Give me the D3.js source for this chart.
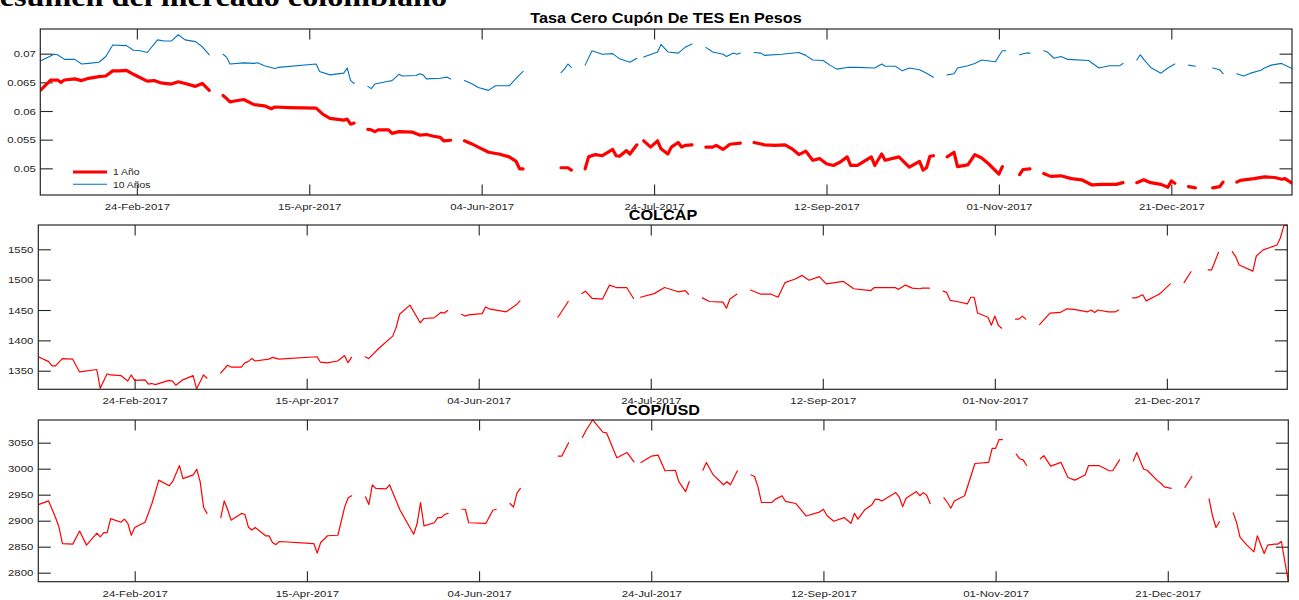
<!DOCTYPE html>
<html>
<head>
<meta charset="utf-8">
<script src="https://cdn.jsdelivr.net/npm/d3@7"></script>
<style>
  html, body { margin: 0; padding: 0; background: #fff; }
  svg { display: block; }
  .tick text { font-family: "Liberation Sans", Arial, sans-serif; fill: #262626; }
</style>
</head>
<body>
<svg id="fig" width="1299" height="600"></svg>
<script>
// ---- Data: Colombian market summary, Jan 2017 - Jan 2018 (null = no quote) ----
const xStart = "2017-01-27";
const xEnd = "2018-01-25";
const xTickDates = ["2017-02-24", "2017-04-15", "2017-06-04", "2017-07-24", "2017-09-12", "2017-11-01", "2017-12-21"];

const tesTicks = [0.05, 0.055, 0.06, 0.065, 0.07];
const colcapTicks = [1350, 1400, 1450, 1500, 1550];
const copTicks = [2800, 2850, 2900, 2950, 3000, 3050];

const tesDomain = [0.04535, 0.0743];
const colcapDomain = [1319.4, 1590];
const copDomain = [2782.7, 3093.6];

const seriesNames = ["1 Año", "10 Años"];

// Zero-coupon TES yield, 1 year
const tes1Y = [
["2017-01-27",0.0636],["2017-01-30",0.0654],["2017-02-01",0.0654],["2017-02-02",0.0650],["2017-02-03",0.0654],["2017-02-06",0.0656],["2017-02-08",0.0653],["2017-02-10",0.0657],["2017-02-13",0.0660],["2017-02-15",0.0661],["2017-02-17",0.0670],["2017-02-19",0.0670],["2017-02-21",0.0671],["2017-02-23",0.0664],["2017-02-24",0.0661],["2017-02-27",0.0652],["2017-03-01",0.0653],["2017-03-03",0.0649],["2017-03-06",0.0647],["2017-03-08",0.0651],["2017-03-10",0.0648],["2017-03-13",0.0643],["2017-03-15",0.0648],["2017-03-17",0.0636],
["2017-03-19",null],
["2017-03-21",0.0627],["2017-03-22",0.0622],["2017-03-23",0.0616],["2017-03-24",0.0617],["2017-03-27",0.0620],["2017-03-30",0.0611],["2017-04-02",0.0609],["2017-04-04",0.0604],["2017-04-05",0.0607],["2017-04-09",0.0606],["2017-04-17",0.0605],["2017-04-19",0.0594],["2017-04-21",0.0587],["2017-04-25",0.0584],["2017-04-26",0.0586],["2017-04-27",0.0577],["2017-04-28",0.0579],
["2017-04-30",null],
["2017-05-02",0.0568],["2017-05-03",0.0567],["2017-05-04",0.0564],["2017-05-05",0.0567],["2017-05-08",0.0567],["2017-05-09",0.0561],["2017-05-11",0.0564],["2017-05-15",0.0563],["2017-05-17",0.0558],["2017-05-19",0.0559],["2017-05-21",0.0556],["2017-05-23",0.0554],["2017-05-24",0.0548],["2017-05-26",0.0549],
["2017-05-28",null],
["2017-05-30",0.0548],["2017-06-01",0.0543],["2017-06-03",0.0537],["2017-06-06",0.0528],["2017-06-09",0.0525],["2017-06-12",0.0520],["2017-06-14",0.0512],["2017-06-15",0.0499],["2017-06-16",0.0499],
["2017-06-21",null],
["2017-06-27",0.0501],["2017-06-29",0.0501],["2017-06-30",0.0497],
["2017-07-02",null],
["2017-07-04",0.0499],["2017-07-05",0.0520],["2017-07-07",0.0524],["2017-07-09",0.0522],["2017-07-12",0.0533],["2017-07-13",0.0522],["2017-07-14",0.0521],["2017-07-16",0.0531],["2017-07-17",0.0525],["2017-07-19",0.0541],
["2017-07-20",null],
["2017-07-21",0.0548],["2017-07-23",0.0537],["2017-07-25",0.0548],["2017-07-26",0.0534],["2017-07-28",0.0525],["2017-07-29",0.0537],["2017-07-31",0.0545],["2017-08-01",0.0537],["2017-08-02",0.0540],["2017-08-04",0.0541],
["2017-08-06",null],
["2017-08-08",0.0537],["2017-08-10",0.0537],["2017-08-11",0.0540],["2017-08-13",0.0533],["2017-08-15",0.0542],["2017-08-18",0.0544],
["2017-08-20",null],
["2017-08-22",0.0545],["2017-08-25",0.0541],["2017-08-28",0.0540],["2017-08-31",0.0541],["2017-09-02",0.0534],["2017-09-04",0.0524],["2017-09-06",0.0530],["2017-09-08",0.0514],["2017-09-10",0.0517],["2017-09-12",0.0508],["2017-09-14",0.0505],["2017-09-16",0.0511],["2017-09-18",0.0520],["2017-09-19",0.0505],["2017-09-21",0.0505],["2017-09-25",0.0520],["2017-09-26",0.0505],["2017-09-28",0.0525],["2017-09-29",0.0514],["2017-10-03",0.0520],["2017-10-06",0.0502],["2017-10-09",0.0512],["2017-10-10",0.0497],["2017-10-11",0.0501],["2017-10-12",0.0521],["2017-10-13",0.0522],
["2017-10-15",null],
["2017-10-17",0.0520],["2017-10-19",0.0528],["2017-10-20",0.0503],["2017-10-23",0.0506],["2017-10-25",0.0524],["2017-10-27",0.0518],["2017-10-29",0.0508],["2017-11-01",0.0490],["2017-11-02",0.0503],
["2017-11-04",null],
["2017-11-07",0.0489],["2017-11-08",0.0498],["2017-11-10",0.0499],
["2017-11-12",null],
["2017-11-14",0.0491],["2017-11-16",0.0486],["2017-11-19",0.0487],["2017-11-22",0.0482],["2017-11-25",0.0480],["2017-11-28",0.0471],["2017-12-01",0.0472],["2017-12-05",0.0472],["2017-12-07",0.0475],
["2017-12-09",null],
["2017-12-11",0.0475],["2017-12-13",0.0480],["2017-12-15",0.0475],["2017-12-18",0.0472],["2017-12-20",0.0467],["2017-12-21",0.0478],["2017-12-22",0.0474],
["2017-12-24",null],
["2017-12-26",0.0468],["2017-12-28",0.0466],
["2017-12-30",null],
["2018-01-02",0.0466],["2018-01-04",0.0468],["2018-01-05",0.0476],
["2018-01-07",null],
["2018-01-09",0.0476],["2018-01-10",0.0479],["2018-01-14",0.0482],["2018-01-17",0.0485],["2018-01-20",0.0484],["2018-01-22",0.0481],["2018-01-23",0.0482],["2018-01-25",0.0474]
];

// Zero-coupon TES yield, 10 years
const tes10Y = [
["2017-01-27",0.0687],["2017-01-31",0.0699],["2017-02-01",0.0698],["2017-02-03",0.0690],["2017-02-06",0.0690],["2017-02-08",0.0682],["2017-02-10",0.0683],["2017-02-13",0.0685],["2017-02-15",0.0695],["2017-02-17",0.0715],["2017-02-21",0.0714],["2017-02-23",0.0706],["2017-02-25",0.0705],["2017-02-27",0.0702],["2017-03-02",0.0724],["2017-03-04",0.0722],["2017-03-06",0.0722],["2017-03-08",0.0733],["2017-03-10",0.0724],["2017-03-13",0.0721],["2017-03-15",0.0712],["2017-03-17",0.0698],
["2017-03-19",null],
["2017-03-21",0.0699],["2017-03-22",0.0694],["2017-03-23",0.0682],["2017-03-27",0.0684],["2017-03-30",0.0683],["2017-03-31",0.0684],["2017-04-02",0.0679],["2017-04-05",0.0674],["2017-04-06",0.0676],["2017-04-17",0.0682],["2017-04-18",0.0669],["2017-04-21",0.0663],["2017-04-25",0.0666],["2017-04-26",0.0675],["2017-04-27",0.0653],["2017-04-28",0.0648],
["2017-04-30",null],
["2017-05-02",0.0643],["2017-05-03",0.0639],["2017-05-04",0.0647],["2017-05-08",0.0652],["2017-05-09",0.0653],["2017-05-11",0.0664],["2017-05-12",0.0661],["2017-05-16",0.0662],["2017-05-17",0.0665],["2017-05-18",0.0663],["2017-05-19",0.0656],["2017-05-23",0.0657],["2017-05-25",0.0659],["2017-05-26",0.0656],
["2017-05-28",null],
["2017-05-30",0.0653],["2017-06-01",0.0648],["2017-06-03",0.0641],["2017-06-06",0.0636],["2017-06-08",0.0644],["2017-06-12",0.0644],["2017-06-14",0.0657],["2017-06-16",0.0669],
["2017-06-21",null],
["2017-06-27",0.0667],["2017-06-28",0.0673],["2017-06-29",0.0682],["2017-06-30",0.0676],
["2017-07-02",null],
["2017-07-04",0.0680],["2017-07-06",0.0705],["2017-07-09",0.0699],["2017-07-12",0.0700],["2017-07-14",0.0691],["2017-07-17",0.0685],["2017-07-19",0.0692],
["2017-07-20",null],
["2017-07-21",0.0694],["2017-07-25",0.0703],["2017-07-26",0.0716],["2017-07-28",0.0703],["2017-07-31",0.0701],["2017-08-02",0.0711],["2017-08-04",0.0717],
["2017-08-06",null],
["2017-08-08",0.0711],["2017-08-10",0.0703],["2017-08-13",0.0699],["2017-08-14",0.0695],["2017-08-16",0.0701],["2017-08-17",0.0699],["2017-08-18",0.0701],
["2017-08-20",null],
["2017-08-22",0.0702],["2017-08-24",0.0701],["2017-08-25",0.0697],["2017-08-30",0.0699],["2017-09-04",0.0702],["2017-09-06",0.0697],["2017-09-08",0.0689],["2017-09-11",0.0688],["2017-09-13",0.0680],["2017-09-15",0.0673],["2017-09-18",0.0676],["2017-09-21",0.0676],["2017-09-26",0.0675],["2017-09-28",0.0682],["2017-09-29",0.0678],["2017-10-02",0.0678],["2017-10-04",0.0670],["2017-10-06",0.0675],["2017-10-09",0.0672],["2017-10-11",0.0666],["2017-10-13",0.0659],
["2017-10-15",null],
["2017-10-17",0.0663],["2017-10-19",0.0665],["2017-10-20",0.0675],["2017-10-23",0.0679],["2017-10-25",0.0683],["2017-10-27",0.0689],["2017-10-31",0.0686],["2017-11-01",0.0696],["2017-11-02",0.0705],["2017-11-03",0.0705],
["2017-11-05",null],
["2017-11-07",0.0698],["2017-11-09",0.0701],["2017-11-10",0.0701],
["2017-11-12",null],
["2017-11-14",0.0705],["2017-11-15",0.0703],["2017-11-17",0.0692],["2017-11-19",0.0695],["2017-11-21",0.0690],["2017-11-27",0.0688],["2017-11-30",0.0675],["2017-12-03",0.0679],["2017-12-06",0.0679],["2017-12-07",0.0683],
["2017-12-09",null],
["2017-12-11",0.0689],["2017-12-12",0.0698],["2017-12-13",0.0690],["2017-12-15",0.0676],["2017-12-18",0.0666],["2017-12-20",0.0675],["2017-12-22",0.0682],
["2017-12-24",null],
["2017-12-26",0.0680],["2017-12-28",0.0678],
["2017-12-30",null],
["2018-01-02",0.0675],["2018-01-04",0.0672],["2018-01-05",0.0665],
["2018-01-07",null],
["2018-01-09",0.0665],["2018-01-11",0.0661],["2018-01-13",0.0666],["2018-01-16",0.0671],["2018-01-17",0.0675],["2018-01-19",0.0680],["2018-01-22",0.0683],["2018-01-25",0.0674]
];

// COLCAP stock index
const colcap = [
["2017-01-27",1373],["2017-01-30",1365],["2017-01-31",1358],["2017-02-01",1358],["2017-02-03",1370],["2017-02-06",1369],["2017-02-08",1348],["2017-02-13",1352],["2017-02-14",1321],["2017-02-16",1345],["2017-02-17",1343],["2017-02-20",1342],["2017-02-22",1333],["2017-02-23",1343],["2017-02-24",1334],["2017-02-27",1335],["2017-02-28",1328],["2017-03-01",1329],["2017-03-02",1327],["2017-03-06",1334],["2017-03-07",1333],["2017-03-08",1326],["2017-03-10",1335],["2017-03-13",1342],["2017-03-14",1320],["2017-03-16",1343],["2017-03-17",1338],
["2017-03-19",null],
["2017-03-21",1346],["2017-03-23",1359],["2017-03-24",1356],["2017-03-27",1356],["2017-03-28",1363],["2017-03-29",1365],["2017-03-30",1370],["2017-03-31",1366],["2017-04-04",1369],["2017-04-05",1372],["2017-04-07",1369],["2017-04-18",1373],["2017-04-19",1364],["2017-04-21",1363],["2017-04-24",1366],["2017-04-26",1375],["2017-04-27",1363],["2017-04-28",1372],
["2017-04-30",null],
["2017-05-02",1373],["2017-05-03",1370],["2017-05-06",1387],["2017-05-10",1407],["2017-05-11",1421],["2017-05-12",1443],["2017-05-15",1458],["2017-05-18",1429],["2017-05-19",1436],["2017-05-22",1437],["2017-05-24",1446],["2017-05-25",1445],["2017-05-26",1449],
["2017-05-28",null],
["2017-05-30",1443],["2017-05-31",1440],["2017-06-01",1442],["2017-06-05",1444],["2017-06-06",1455],["2017-06-07",1452],["2017-06-12",1447],["2017-06-14",1455],["2017-06-15",1459],["2017-06-16",1465],
["2017-06-21",null],
["2017-06-27",1438],["2017-06-29",1455],["2017-06-30",1464],
["2017-07-02",null],
["2017-07-04",1477],["2017-07-05",1481],["2017-07-07",1469],["2017-07-10",1468],["2017-07-12",1491],["2017-07-14",1487],["2017-07-17",1487],["2017-07-19",1469],
["2017-07-20",null],
["2017-07-21",1471],["2017-07-25",1477],["2017-07-28",1487],["2017-08-01",1480],["2017-08-03",1482],["2017-08-04",1476],
["2017-08-06",null],
["2017-08-08",1470],["2017-08-10",1464],["2017-08-14",1463],["2017-08-15",1453],["2017-08-16",1468],["2017-08-18",1476],
["2017-08-20",null],
["2017-08-22",1483],["2017-08-25",1476],["2017-08-28",1476],["2017-08-30",1471],["2017-09-01",1495],["2017-09-04",1501],["2017-09-06",1507],["2017-09-08",1499],["2017-09-11",1505],["2017-09-13",1493],["2017-09-18",1497],["2017-09-21",1485],["2017-09-26",1482],["2017-09-27",1487],["2017-10-03",1487],["2017-10-04",1484],["2017-10-06",1491],["2017-10-08",1486],["2017-10-10",1485],["2017-10-11",1486],["2017-10-13",1486],
["2017-10-15",null],
["2017-10-17",1481],["2017-10-18",1479],["2017-10-19",1466],["2017-10-21",1464],["2017-10-24",1460],["2017-10-25",1471],["2017-10-26",1471],["2017-10-27",1445],["2017-10-30",1438],["2017-10-31",1425],["2017-11-01",1440],["2017-11-02",1425],["2017-11-03",1420],
["2017-11-05",null],
["2017-11-07",1435],["2017-11-08",1435],["2017-11-09",1440],["2017-11-10",1435],
["2017-11-12",null],
["2017-11-14",1426],["2017-11-17",1445],["2017-11-20",1446],["2017-11-22",1452],["2017-11-24",1451],["2017-11-28",1447],["2017-11-29",1450],["2017-11-30",1446],["2017-12-01",1450],["2017-12-04",1447],["2017-12-06",1447],["2017-12-07",1450],
["2017-12-09",null],
["2017-12-11",1470],["2017-12-12",1470],["2017-12-14",1475],["2017-12-15",1465],["2017-12-18",1474],["2017-12-19",1477],["2017-12-22",1493],
["2017-12-24",null],
["2017-12-26",1495],["2017-12-28",1513],
["2017-12-30",null],
["2018-01-02",1516],["2018-01-03",1516],["2018-01-05",1545],
["2018-01-07",null],
["2018-01-09",1546],["2018-01-10",1538],["2018-01-11",1524],["2018-01-15",1514],["2018-01-16",1539],["2018-01-18",1549],["2018-01-20",1553],["2018-01-22",1557],["2018-01-23",1569],["2018-01-24",1589],["2018-01-25",1590]
];

// COP per USD exchange rate
const copUsd = [
["2017-01-27",2931],["2017-01-30",2938],["2017-02-01",2906],["2017-02-02",2888],["2017-02-03",2856],["2017-02-06",2855],["2017-02-08",2880],["2017-02-10",2853],["2017-02-13",2876],["2017-02-14",2869],["2017-02-15",2877],["2017-02-16",2877],["2017-02-17",2904],["2017-02-20",2897],["2017-02-21",2903],["2017-02-22",2895],["2017-02-23",2872],["2017-02-24",2887],["2017-02-27",2897],["2017-03-01",2933],["2017-03-03",2978],["2017-03-06",2967],["2017-03-07",2975],["2017-03-09",3006],["2017-03-10",2981],["2017-03-13",2988],["2017-03-14",2999],["2017-03-15",2975],["2017-03-16",2926],["2017-03-17",2914],
["2017-03-19",null],
["2017-03-21",2906],["2017-03-22",2938],["2017-03-23",2921],["2017-03-24",2901],["2017-03-27",2914],["2017-03-28",2912],["2017-03-29",2888],["2017-03-30",2882],["2017-03-31",2887],["2017-04-03",2871],["2017-04-04",2871],["2017-04-05",2858],["2017-04-06",2854],["2017-04-07",2860],["2017-04-17",2856],["2017-04-18",2838],["2017-04-19",2858],["2017-04-21",2871],["2017-04-24",2872],["2017-04-26",2927],["2017-04-27",2944],["2017-04-28",2948],
["2017-04-30",null],
["2017-05-02",2946],["2017-05-03",2931],["2017-05-04",2969],["2017-05-05",2962],["2017-05-08",2961],["2017-05-09",2969],["2017-05-12",2921],["2017-05-16",2874],["2017-05-17",2894],["2017-05-18",2935],["2017-05-19",2890],["2017-05-22",2896],["2017-05-23",2906],["2017-05-24",2906],["2017-05-25",2912],["2017-05-26",2914],
["2017-05-28",null],
["2017-05-30",2922],["2017-05-31",2922],["2017-06-01",2896],["2017-06-06",2895],["2017-06-08",2920],["2017-06-09",2922],
["2017-06-11",null],
["2017-06-13",2933],["2017-06-14",2926],["2017-06-15",2953],["2017-06-16",2962],
["2017-06-21",null],
["2017-06-27",3024],["2017-06-28",3024],["2017-06-30",3050],
["2017-07-02",null],
["2017-07-04",3060],["2017-07-05",3073],["2017-07-07",3094],["2017-07-10",3070],["2017-07-11",3069],["2017-07-14",3021],["2017-07-17",3031],["2017-07-19",3013],
["2017-07-20",null],
["2017-07-21",3012],["2017-07-24",3024],["2017-07-26",3026],["2017-07-28",2996],["2017-07-31",2997],["2017-08-01",2975],["2017-08-03",2956],["2017-08-04",2975],
["2017-08-06",null],
["2017-08-08",2997],["2017-08-09",3012],["2017-08-11",2988],["2017-08-14",2969],["2017-08-15",2975],["2017-08-16",2969],["2017-08-18",2996],
["2017-08-20",null],
["2017-08-22",2988],["2017-08-23",2985],["2017-08-24",2965],["2017-08-25",2935],["2017-08-28",2935],["2017-08-29",2941],["2017-08-31",2948],["2017-09-01",2937],["2017-09-04",2933],["2017-09-07",2909],["2017-09-11",2917],["2017-09-12",2922],["2017-09-13",2910],["2017-09-15",2899],["2017-09-18",2906],["2017-09-20",2895],["2017-09-21",2914],["2017-09-22",2903],["2017-09-24",2921],["2017-09-26",2930],["2017-09-27",2941],["2017-09-28",2941],["2017-09-29",2938],["2017-10-03",2954],["2017-10-04",2946],["2017-10-05",2927],["2017-10-06",2943],["2017-10-09",2956],["2017-10-10",2948],["2017-10-11",2954],["2017-10-12",2949],["2017-10-13",2933],
["2017-10-15",null],
["2017-10-17",2944],["2017-10-18",2935],["2017-10-19",2924],["2017-10-20",2938],["2017-10-23",2948],["2017-10-26",3010],["2017-10-30",3012],["2017-10-31",3039],["2017-11-01",3039],["2017-11-02",3056],["2017-11-03",3056],
["2017-11-05",null],
["2017-11-07",3028],["2017-11-08",3019],["2017-11-09",3017],["2017-11-10",3006],
["2017-11-12",null],
["2017-11-14",3019],["2017-11-15",3025],["2017-11-17",3005],["2017-11-20",3012],["2017-11-22",2983],["2017-11-24",2978],["2017-11-27",2988],["2017-11-28",3006],["2017-12-01",3006],["2017-12-04",2996],["2017-12-05",2996],["2017-12-07",3017],
["2017-12-09",null],
["2017-12-11",3015],["2017-12-12",3031],["2017-12-14",2999],["2017-12-15",2997],["2017-12-18",2977],["2017-12-19",2972],["2017-12-20",2965],["2017-12-22",2962],
["2017-12-24",null],
["2017-12-26",2964],["2017-12-28",2985],
["2017-12-30",null],
["2018-01-02",2942],["2018-01-03",2909],["2018-01-04",2887],["2018-01-05",2898],
["2018-01-07",null],
["2018-01-09",2915],["2018-01-10",2896],["2018-01-11",2868],["2018-01-13",2853],["2018-01-15",2840],["2018-01-16",2871],["2018-01-18",2837],["2018-01-19",2853],["2018-01-21",2855],["2018-01-22",2855],["2018-01-23",2860],["2018-01-25",2783]
];

// ---- Drawing ----
const parseDate = d3.timeParse("%Y-%m-%d");
const fmtDate = d3.timeFormat("%d-%b-%Y");
const svg = d3.select("#fig");

const AXIS_COLOR = "#262626";
const LABEL_FONT = "'Liberation Sans', Arial, Helvetica, sans-serif";
const TICK_FS = 9.5;      // tick label size
const STRETCH = 1.2;      // horizontal text stretch of the exported figure

// Main heading (partly above the page edge)
svg.append("text")
  .attr("transform", "translate(447,6) scale(1.15,1)")
  .attr("text-anchor", "end")
  .style("font-family", "'Liberation Serif', 'Times New Roman', serif")
  .style("font-weight", "bold")
  .style("font-size", "28px")
  .attr("fill", "#000")
  .text("Resumen del mercado colombiano");

function drawPanel(p) {
  const x = d3.scaleTime()
    .domain([parseDate(xStart), parseDate(xEnd)])
    .range([p.left, p.right]);
  const y = d3.scaleLinear()
    .domain(p.yDomain)
    .range([p.bottom, p.top]);

  const g = svg.append("g");
  const clipId = "clip-" + p.id;
  g.append("clipPath").attr("id", clipId)
    .append("rect")
    .attr("x", p.left).attr("y", p.top - 2)
    .attr("width", p.right - p.left).attr("height", p.bottom - p.top + 4);

  const xTicks = xTickDates.map(parseDate);

  // bottom axis with labels, inward ticks
  const gxb = g.append("g")
    .attr("transform", `translate(0,${p.bottom})`)
    .call(d3.axisBottom(x).tickValues(xTicks).tickFormat(fmtDate)
      .tickSizeInner(-10.5).tickSizeOuter(0));
  gxb.selectAll(".tick text")
    .attr("y", 15).attr("dy", null)
    .attr("transform", `scale(${STRETCH},1)`)
    .style("font-size", TICK_FS + "px");

  // top axis, ticks only
  g.append("g")
    .attr("transform", `translate(0,${p.top})`)
    .call(d3.axisTop(x).tickValues(xTicks).tickFormat("")
      .tickSizeInner(-10.5).tickSizeOuter(0));

  // left axis with labels
  const gyl = g.append("g")
    .attr("transform", `translate(${p.left},0)`)
    .call(d3.axisLeft(y).tickValues(p.yTicks).tickFormat(d => String(d))
      .tickSizeInner(-12.5).tickSizeOuter(0));
  gyl.selectAll(".tick text")
    .attr("x", -p.labelGap / STRETCH).attr("dy", "0.34em")
    .attr("transform", `scale(${STRETCH},1)`)
    .style("font-size", TICK_FS + "px");

  // right axis, ticks only
  g.append("g")
    .attr("transform", `translate(${p.right},0)`)
    .call(d3.axisRight(y).tickValues(p.yTicks).tickFormat("")
      .tickSizeInner(-12.5).tickSizeOuter(0));

  g.selectAll(".domain").remove();
  g.selectAll(".tick line").attr("stroke", AXIS_COLOR).attr("stroke-width", 1.1);

  // data lines
  const line = d3.line()
    .defined(d => d[1] !== null)
    .x(d => x(parseDate(d[0])))
    .y(d => y(d[1]));

  const plot = g.append("g").attr("clip-path", `url(#${clipId})`);
  p.series.forEach(s => {
    plot.append("path")
      .datum(s.data)
      .attr("fill", "none")
      .attr("stroke", s.color)
      .attr("stroke-width", s.width)
      .attr("stroke-linejoin", "round")
      .attr("stroke-linecap", "round")
      .attr("d", line);
  });

  // axes box
  g.append("rect")
    .attr("x", p.left).attr("y", p.top)
    .attr("width", p.right - p.left).attr("height", p.bottom - p.top)
    .attr("fill", "none").attr("stroke", AXIS_COLOR).attr("stroke-width", 1.2);

  // panel title
  g.append("text")
    .attr("transform", `translate(${p.titleX},${p.titleY}) scale(1.08,1)`)
    .attr("text-anchor", "middle")
    .style("font-family", LABEL_FONT)
    .style("font-weight", "bold")
    .style("font-size", "15px")
    .attr("fill", "#000")
    .text(p.title);

  return { g, x, y };
}

const p1 = drawPanel({
  id: "tes", top: 29, bottom: 195, left: 40.3, right: 1292,
  yDomain: tesDomain, yTicks: tesTicks, labelGap: 4.5,
  title: "Tasa Cero Cupón De TES En Pesos", titleX: 666, titleY: 23,
  series: [
    { data: tes1Y, color: "#ff0000", width: 3.2 },
    { data: tes10Y, color: "#0072BD", width: 1.1 }
  ]
});

drawPanel({
  id: "colcap", top: 225, bottom: 389.3, left: 38.3, right: 1287.3,
  yDomain: colcapDomain, yTicks: colcapTicks, labelGap: 5,
  title: "COLCAP", titleX: 663, titleY: 220,
  series: [{ data: colcap, color: "#ff0000", width: 1.2 }]
});

drawPanel({
  id: "cop", top: 420, bottom: 581.7, left: 38.3, right: 1288.3,
  yDomain: copDomain, yTicks: copTicks, labelGap: 5,
  title: "COP/USD", titleX: 663, titleY: 415,
  series: [{ data: copUsd, color: "#ff0000", width: 1.2 }]
});

// legend of the TES panel
const legend = p1.g.append("g");
const legendItems = [
  { name: seriesNames[0], color: "#ff0000", width: 3.2, y: 172 },
  { name: seriesNames[1], color: "#0072BD", width: 1.1, y: 184.3 }
];
legendItems.forEach(it => {
  legend.append("line")
    .attr("x1", 73).attr("x2", 107).attr("y1", it.y).attr("y2", it.y)
    .attr("stroke", it.color).attr("stroke-width", it.width);
  legend.append("text")
    .attr("transform", `translate(113,${it.y + 3.2}) scale(1.15,1)`)
    .style("font-family", LABEL_FONT)
    .style("font-size", "9px")
    .attr("fill", "#262626")
    .text(it.name);
});
</script>
</body>
</html>
